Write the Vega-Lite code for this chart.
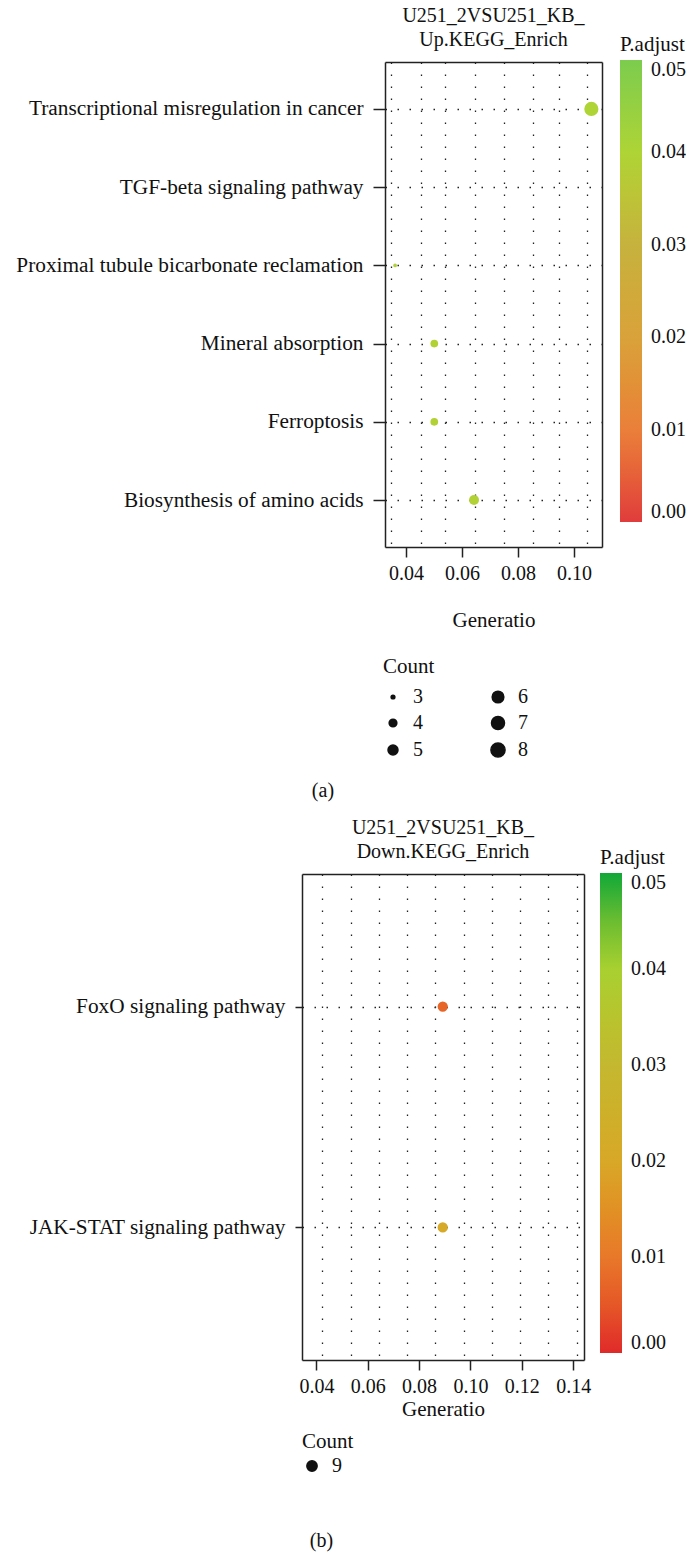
{
  "$schema": "https://vega.github.io/schema/vega-lite/v6.json",
  "background": "white",
  "padding": {"left": 15, "top": 6, "right": 0, "bottom": 5},
  "spacing": 17,
  "resolve": {"scale": {"color": "independent", "size": "independent"}, "legend": {"color": "independent", "size": "independent"}},
  "config": {
    "font": "Liberation Serif",
    "title": {"fontWeight": "normal", "fontSize": 20, "color": "#111"},
    "axis": {"labelFontSize": 20, "titleFontSize": 21, "titleFontWeight": "normal", "labelColor": "#111", "titleColor": "#111", "labelFont": "Liberation Serif", "titleFont": "Liberation Serif", "labelLimit": 0, "domainColor": "#222", "domainWidth": 1.5},
    "legend": {"labelFontSize": 20, "titleFontSize": 21, "titleFontWeight": "normal", "labelColor": "#111", "titleColor": "#111", "labelFont": "Liberation Serif", "titleFont": "Liberation Serif"},
    "view": {"stroke": null}
  },
  "vconcat": [
    {
      "title": {"text": "(a)", "orient": "bottom", "anchor": "start", "dx": 296, "fontSize": 20, "offset": 20},
      "vconcat": [
        {
          "title": {"text": ["U251_2VSU251_KB_", "Up.KEGG_Enrich"], "frame": "group", "anchor": "middle", "dx": 41.5, "fontSize": 20, "lineHeight": 24, "offset": 12},
          "width": 300,
          "height": 485,
          "data": {"values": [
            {"Description": "Transcriptional misregulation in cancer", "GeneRatio": 0.1062, "Count": 8, "p_adjust": 0.04},
            {"Description": "Proximal tubule bicarbonate reclamation", "GeneRatio": 0.0361, "Count": 3, "p_adjust": 0.039},
            {"Description": "Mineral absorption", "GeneRatio": 0.0501, "Count": 4, "p_adjust": 0.039},
            {"Description": "Ferroptosis", "GeneRatio": 0.0501, "Count": 4, "p_adjust": 0.039},
            {"Description": "Biosynthesis of amino acids", "GeneRatio": 0.0643, "Count": 5, "p_adjust": 0.039}
          ]},
          "layer": [
            {
              "mark": {"type": "circle", "opacity": 0},
              "encoding": {
                "x": {"field": "GeneRatio", "type": "quantitative",
                  "scale": {"domain": [0.0325, 0.11], "range": [83, 300], "nice": false, "zero": false},
                  "axis": {"orient": "top", "grid": true, "values": [0.03467, 0.04522, 0.05375, 0.06476, 0.07492, 0.08536, 0.09481, 0.10476], "labels": false, "ticks": false, "domain": true, "title": null, "gridDash": [1.5, 10.5], "gridColor": "#222", "gridWidth": 1.3}},
                "y": {"field": "Description", "type": "nominal",
                  "scale": {"type": "point", "padding": 0.6, "domain": ["Transcriptional misregulation in cancer", "TGF-beta signaling pathway", "Proximal tubule bicarbonate reclamation", "Mineral absorption", "Ferroptosis", "Biosynthesis of amino acids"]},
                  "axis": {"title": null, "offset": -83, "domain": true, "grid": true, "gridDash": [1.5, 10.5], "gridColor": "#222", "gridWidth": 1.3, "tickSize": 12, "tickWidth": 1.5, "tickColor": "#222", "labelPadding": 10, "labelFontSize": 21.3}}
              }
            },
            {
              "mark": {"type": "circle", "opacity": 1},
              "encoding": {
                "x": {"field": "GeneRatio", "type": "quantitative",
                  "axis": {"orient": "bottom", "values": [0.04, 0.06, 0.08, 0.1], "format": ".2f", "title": "Generatio", "grid": false, "domain": true, "tickSize": 10, "tickWidth": 1.5, "tickColor": "#222", "labelPadding": 6, "titlePadding": 26}},
                "y": {"field": "Description", "type": "nominal",
                  "axis": {"orient": "right", "title": null, "labels": false, "ticks": false, "grid": false, "domain": true}},
                "color": {"field": "p_adjust", "type": "quantitative",
                  "scale": {"domain": [0, 0.05], "range": ["#e03c3c", "#ea7f3a", "#d9a23a", "#c6b23e", "#aed436", "#7ccc4e"]},
                  "legend": {"title": "P.adjust", "orient": "none", "legendX": 318, "legendY": -28, "direction": "vertical", "gradientLength": 462, "gradientThickness": 22, "values": [0, 0.01, 0.02, 0.03, 0.04, 0.05], "format": ".2f", "labelOffset": 9}},
                "size": {"field": "Count", "type": "quantitative",
                  "scale": {"type": "sqrt", "domain": [3, 8], "range": [14, 200]},
                  "legend": {"title": "Count", "orient": "none", "legendX": 81, "legendY": 594, "direction": "vertical", "columns": 2, "values": [3, 4, 5, 6, 7, 8], "symbolFillColor": "#111", "symbolStrokeColor": "#111", "symbolOpacity": 1, "columnPadding": 64, "rowPadding": 6, "labelOffset": 10, "titlePadding": 10}}
              }
            }
          ],
          "resolve": {"axis": {"x": "independent", "y": "independent"}}
        }
      ]
    },
    {
      "title": {"text": "(b)", "orient": "bottom", "anchor": "start", "dx": 281, "fontSize": 20, "offset": 55},
      "vconcat": [
        {
          "title": {"text": ["U251_2VSU251_KB_", "Down.KEGG_Enrich"], "frame": "group", "anchor": "middle", "fontSize": 20, "lineHeight": 24, "offset": 12},
          "width": 282,
          "height": 486,
          "data": {"values": [
            {"Description": "FoxO signaling pathway", "GeneRatio": 0.0892, "Count": 9, "p_adjust": 0.007},
            {"Description": "JAK-STAT signaling pathway", "GeneRatio": 0.0892, "Count": 9, "p_adjust": 0.021}
          ]},
          "layer": [
            {
              "mark": {"type": "circle", "opacity": 0},
              "encoding": {
                "x": {"field": "GeneRatio", "type": "quantitative",
                  "scale": {"domain": [0.0344, 0.1442], "nice": false, "zero": false},
                  "axis": {"orient": "top", "grid": true, "values": [0.0423, 0.0533, 0.0643, 0.0753, 0.0863, 0.0973, 0.1083, 0.1193, 0.1303, 0.1413], "labels": false, "ticks": false, "domain": true, "title": null, "gridDash": [1.5, 10.5], "gridColor": "#222", "gridWidth": 1.3}},
                "y": {"field": "Description", "type": "nominal",
                  "scale": {"type": "point", "padding": 0.6, "domain": ["FoxO signaling pathway", "JAK-STAT signaling pathway"]},
                  "axis": {"title": null, "domain": true, "grid": true, "gridDash": [1.5, 10.5], "gridColor": "#222", "gridWidth": 1.3, "tickSize": 7, "tickWidth": 1.5, "tickColor": "#222", "labelPadding": 10, "labelFontSize": 21.3}}
              }
            },
            {
              "mark": {"type": "circle", "opacity": 1},
              "encoding": {
                "x": {"field": "GeneRatio", "type": "quantitative",
                  "axis": {"orient": "bottom", "values": [0.04, 0.06, 0.08, 0.1, 0.12, 0.14], "format": ".2f", "title": "Generatio", "grid": false, "domain": true, "tickSize": 10, "tickWidth": 1.5, "tickColor": "#222", "labelPadding": 6, "titlePadding": 2}},
                "y": {"field": "Description", "type": "nominal",
                  "axis": {"orient": "right", "title": null, "labels": false, "ticks": false, "grid": false, "domain": true}},
                "color": {"field": "p_adjust", "type": "quantitative",
                  "scale": {"domain": [0, 0.05], "range": ["#e02a2a", "#e8782a", "#d8a828", "#c4b830", "#a8d030", "#10a838"]},
                  "legend": {"title": "P.adjust", "orient": "none", "legendX": 298, "legendY": -27, "direction": "vertical", "gradientLength": 480, "gradientThickness": 22, "values": [0, 0.01, 0.02, 0.03, 0.04, 0.05], "format": ".2f", "labelOffset": 9}},
                "size": {"field": "Count", "type": "quantitative",
                  "scale": {"domain": [0, 9], "range": [0, 106]},
                  "legend": {"title": "Count", "orient": "bottom", "direction": "vertical", "values": [9], "symbolFillColor": "#111", "symbolStrokeColor": "#111", "symbolOpacity": 1, "labelOffset": 10, "titlePadding": 4, "offset": 12}}
              }
            }
          ],
          "resolve": {"axis": {"x": "independent", "y": "independent"}}
        }
      ]
    }
  ]
}
